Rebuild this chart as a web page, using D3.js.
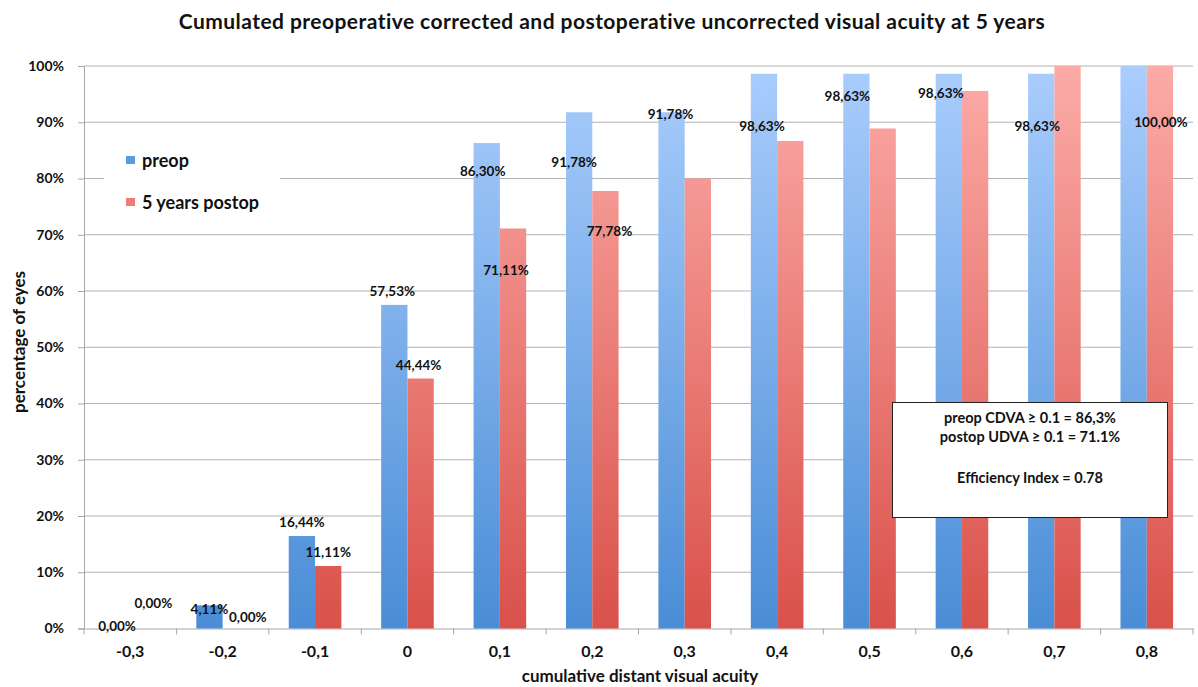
<!DOCTYPE html>
<html>
<head>
<meta charset="utf-8">
<script src="https://cdn.jsdelivr.net/npm/d3@7/dist/d3.min.js"></script>
<style>
  html, body { margin: 0; padding: 0; background: #fff; }
  svg text { font-family: Lato, "Open Sans", sans-serif; font-weight: bold; fill: #111; }
</style>
</head>
<body>
<svg id="chart" width="1198" height="687"></svg>
<script>
// Visual acuity categories (logMAR steps, shown with decimal commas)
const categories = ["-0,3", "-0,2", "-0,1", "0", "0,1", "0,2", "0,3", "0,4", "0,5", "0,6", "0,7", "0,8"];
// Cumulative percentage of eyes
const preopValues  = [0, 4.11, 16.44, 57.53, 86.30, 91.78, 91.78, 98.63, 98.63, 98.63, 98.63, 100];
const postopValues = [0, 0, 11.11, 44.44, 71.11, 77.78, 80.00, 86.67, 88.89, 95.56, 100, 100];
const seriesNames  = ["preop", "5 years postop"];
const yTicks = [0, 10, 20, 30, 40, 50, 60, 70, 80, 90, 100];

// Data label placement: [horizontal nudge in px, vertical anchor in % units]; null = no label
const preopLabelPlace  = [[0, 0.4], [0, 3.5], [0, 18.9], [-2, 60.0], [-4, 81.2], [-5, 82.8],
                          [-1, 91.5], [-2, 89.3], [-9, 94.7], [-8, 95.2], [-4, 89.2], null];
const postopLabelPlace = [[10, 4.5], [12, 2.0], [0, 13.6], [-2, 46.8], [-7, 63.7], [4, 70.7],
                          null, null, null, null, null, [1, 90.0]];

const svg = d3.select("#chart");
const margin = { left: 84, right: 1193, top: 66, bottom: 628.5 };

const x = d3.scaleBand().domain(categories).range([margin.left, margin.right]).paddingInner(0).paddingOuter(0);
const barW = 26.3;
const y = d3.scaleLinear().domain([0, 100]).range([margin.bottom, margin.top]);

const fmt = v => d3.format(".2f")(v).replace(".", ",") + "%";

// Vertical gradients spanning the whole value range
const defs = svg.append("defs");
function grad(id, top, bottom) {
  const g = defs.append("linearGradient").attr("id", id)
    .attr("gradientUnits", "userSpaceOnUse")
    .attr("x1", 0).attr("x2", 0).attr("y1", y(100)).attr("y2", y(0));
  g.append("stop").attr("offset", "0%").attr("stop-color", top);
  g.append("stop").attr("offset", "100%").attr("stop-color", bottom);
}
grad("gBlue", "#aacdfd", "#4a8dd6");
grad("gRed", "#fcaba7", "#d9514a");

// Title
svg.append("text").attr("x", 612).attr("y", 29).attr("text-anchor", "middle")
  .style("font-size", "21px").style("letter-spacing", "0.45px")
  .text("Cumulated preoperative corrected and postoperative uncorrected visual acuity at 5 years");

// Gridlines
svg.append("g").selectAll("line").data(yTicks.filter(t => t > 0)).join("line")
  .attr("x1", margin.left).attr("x2", margin.right)
  .attr("y1", d => y(d)).attr("y2", d => y(d))
  .attr("stroke", "#b3b3b3").attr("stroke-width", 1);

// Y axis
const yAxis = svg.append("g").attr("transform", `translate(${margin.left},0)`)
  .call(d3.axisLeft(y).tickValues(yTicks).tickFormat(d => d + "%").tickSize(6).tickPadding(14));
yAxis.select(".domain").attr("stroke", "#a8a8a8");
yAxis.selectAll(".tick line").attr("stroke", "#a8a8a8");
yAxis.selectAll(".tick text").style("font-size", "14px").style("font-family", "Lato, sans-serif").attr("fill", "#111");

// X axis
const xAxis = svg.append("g").attr("transform", `translate(0,${margin.bottom})`)
  .call(d3.axisBottom(x).tickSize(0).tickPadding(17));
xAxis.select(".domain").attr("stroke", "#a8a8a8");
xAxis.selectAll(".tick text").style("font-size", "16px").style("font-family", "Lato, sans-serif").attr("fill", "#111");
// Category boundary ticks
xAxis.append("g").selectAll("line").data(d3.range(categories.length + 1)).join("line")
  .attr("x1", i => margin.left + i * x.bandwidth()).attr("x2", i => margin.left + i * x.bandwidth())
  .attr("y1", 0).attr("y2", 6).attr("stroke", "#a8a8a8");

// Bars
const cx = c => x(c) + x.bandwidth() / 2;
const bars = svg.append("g");
bars.selectAll("rect.pre").data(categories).join("rect").attr("class", "pre")
  .attr("x", c => cx(c) - barW).attr("width", barW)
  .attr("y", (c, i) => y(preopValues[i])).attr("height", (c, i) => y(0) - y(preopValues[i]))
  .attr("fill", "url(#gBlue)");
bars.selectAll("rect.post").data(categories).join("rect").attr("class", "post")
  .attr("x", c => cx(c)).attr("width", barW)
  .attr("y", (c, i) => y(postopValues[i])).attr("height", (c, i) => y(0) - y(postopValues[i]))
  .attr("fill", "url(#gRed)");

// Data labels
function labels(values, place, side) {
  const rows = categories.map((c, i) => ({ c, v: values[i], p: place[i] })).filter(d => d.p);
  svg.append("g").selectAll("text").data(rows).join("text")
    .attr("x", d => cx(d.c) + side * barW / 2 + d.p[0])
    .attr("y", d => y(d.p[1]))
    .attr("dy", "0.35em")
    .attr("text-anchor", "middle")
    .style("font-size", "13.5px")
    .text(d => fmt(d.v));
}
labels(preopValues, preopLabelPlace, -1);
labels(postopValues, postopLabelPlace, 1);

// Legend
const legend = svg.append("g");
legend.append("rect").attr("x", 104).attr("y", 136).attr("width", 176).attr("height", 88).attr("fill", "#fff");
const legendColors = ["#5c9be0", "#ee7d76"];
seriesNames.forEach((name, i) => {
  const ly = 161 + i * 42;
  legend.append("rect").attr("x", 126).attr("y", ly - 5).attr("width", 9).attr("height", 8)
    .attr("fill", legendColors[i]);
  legend.append("text").attr("x", 142).attr("y", ly).attr("dy", "0.35em")
    .style("font-size", "18px").text(name);
});

// Annotation box
const note = svg.append("g");
note.append("rect").attr("x", 892.5).attr("y", 402.5).attr("width", 275).attr("height", 115)
  .attr("fill", "#fff").attr("stroke", "#222").attr("stroke-width", 1);
const noteLines = [["preop CDVA \u2265 0.1 = 86,3%", 418], ["postop UDVA \u2265 0.1 = 71.1%", 437], ["Efficiency Index = 0.78", 478]];
note.selectAll("text").data(noteLines).join("text")
  .attr("x", 1030).attr("y", d => d[1]).attr("dy", "0.35em").attr("text-anchor", "middle")
  .style("font-size", "14.5px").text(d => d[0]);

// Axis titles
svg.append("text").attr("x", 640).attr("y", 676).attr("dy", "0.35em").attr("text-anchor", "middle")
  .style("font-size", "17px").text("cumulative distant visual acuity");
svg.append("text").attr("transform", "translate(19,342) rotate(-90)").attr("dy", "0.35em")
  .attr("text-anchor", "middle").style("font-size", "17px").text("percentage of eyes");
</script>
</body>
</html>
